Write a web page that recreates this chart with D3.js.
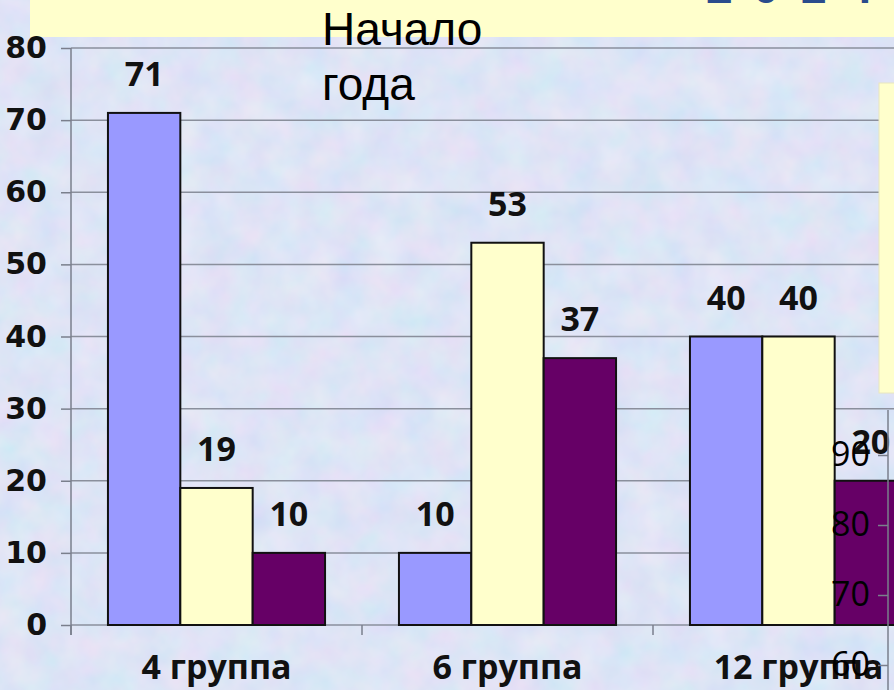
<!DOCTYPE html>
<html>
<head>
<meta charset="utf-8">
<script src="https://cdn.jsdelivr.net/npm/d3@7"></script>
<style>
  body { margin: 0; overflow: hidden; }
  svg { display: block; }
</style>
</head>
<body>
<div class="chart"></div>
<script>
// data
var categories = ["4 группа", "6 группа", "12 группа"];
var seriesNames = ["s1", "s2", "s3"];
var series1 = [71, 10, 40];
var series2 = [19, 53, 40];
var series3 = [10, 37, 20];
var yTicks = [0, 10, 20, 30, 40, 50, 60, 70, 80];
// overlapping axis of another chart showing at the bottom right
var overlayTicks = [60, 70, 80, 90];

var width = 894,
    height = 690;

var margin = { top: 48, bottom: 65, left: 71, right: -50 };

var colors = ["#9999ff", "#ffffcc", "#660066"];

var svg = d3.select(".chart")
            .append("svg")
            .attr("width", width)
            .attr("height", height);

// textured background
var defs = svg.append("defs");
var filt = defs.append("filter").attr("id", "tex").attr("x", 0).attr("y", 0).attr("width", "100%").attr("height", "100%");
filt.append("feTurbulence").attr("type", "fractalNoise").attr("baseFrequency", "0.03").attr("numOctaves", 3).attr("seed", 7);
filt.append("feColorMatrix").attr("type", "matrix")
    .attr("values", "0.45 0 0 0 0.62  0 0.25 0 0 0.74  0 0 0.1 0 0.9  0 0 0 0 1");

svg.append("rect").attr("width", width).attr("height", height).attr("fill", "#c9d5f1");
svg.append("rect").attr("width", width).attr("height", height).attr("filter", "url(#tex)").attr("opacity", 0.6);

// yellow title banner
svg.append("rect").attr("x", 30).attr("y", 0).attr("width", width - 30).attr("height", 37).attr("fill", "#ffffcc");
svg.append("text")
   .attr("x", 706).attr("y", 3)
   .attr("font-family", "Liberation Sans, Arial, sans-serif")
   .attr("font-weight", "bold")
   .attr("font-size", 48)
   .attr("fill", "#2a4c8c")
   .attr("letter-spacing", 20)
   .text("2014");

var x = d3.scaleBand()
          .domain(categories)
          .range([margin.left, margin.left + 3 * 291])
          .paddingInner(0.254)
          .paddingOuter(0.127);

var y = d3.scaleLinear()
          .domain([0, 80])
          .range([625, margin.top]);

var x1 = d3.scaleBand().domain(seriesNames).range([0, x.bandwidth()]);

// gridlines
svg.append("g").selectAll("line")
   .data(yTicks)
   .enter().append("line")
   .attr("x1", margin.left).attr("x2", width)
   .attr("y1", function(d) { return y(d); })
   .attr("y2", function(d) { return y(d); })
   .attr("stroke", "#8a8f9c")
   .attr("stroke-width", 1.5);

// y axis
var yAxis = svg.append("g")
   .attr("transform", "translate(" + margin.left + ",0)")
   .call(d3.axisLeft(y).tickValues(yTicks).tickSize(10).tickPadding(14));
yAxis.select(".domain").remove();
yAxis.append("line").attr("x1", 0).attr("x2", 0).attr("y1", y(80)).attr("y2", y(0) + 10).attr("stroke", "#7a7f8c").attr("stroke-width", 1.5);
yAxis.selectAll(".tick line").attr("stroke", "#7a7f8c").attr("stroke-width", 1.5);
yAxis.selectAll("text")
     .attr("font-family", "DejaVu Sans, Verdana, sans-serif")
     .attr("font-weight", "bold")
     .attr("font-size", 30)
     .attr("fill", "#111");

// x axis
var xAxis = svg.append("g")
   .attr("transform", "translate(0," + y(0) + ")");
var bandEdges = [0, 1, 2, 3].map(function(i) { return margin.left + i * x.step(); });
xAxis.selectAll("line.tk").data(bandEdges).enter().append("line")
     .attr("x1", function(d) { return d; }).attr("x2", function(d) { return d; })
     .attr("y1", 0).attr("y2", 10)
     .attr("stroke", "#7a7f8c").attr("stroke-width", 1.5);
xAxis.selectAll("text").data(categories).enter().append("text")
     .attr("x", function(d) { return x(d) + x.bandwidth() / 2; })
     .attr("y", 54)
     .attr("text-anchor", "middle")
     .attr("font-family", "Open Sans, sans-serif")
     .attr("font-weight", "bold")
     .attr("font-size", 34)
     .attr("fill", "#111")
     .text(function(d) { return d; });

// bars
var allSeries = [series1, series2, series3];
var groups = svg.append("g").selectAll("g")
   .data(categories)
   .enter().append("g")
   .attr("transform", function(d) { return "translate(" + x(d) + ",0)"; });

var bars = groups.selectAll("g")
   .data(function(d, i) { return allSeries.map(function(s, k) { return { key: seriesNames[k], value: s[i], k: k }; }); })
   .enter().append("g");

bars.append("rect")
    .attr("x", function(d) { return x1(d.key); })
    .attr("y", function(d) { return y(d.value); })
    .attr("width", x1.bandwidth())
    .attr("height", function(d) { return y(0) - y(d.value); })
    .attr("fill", function(d) { return colors[d.k]; })
    .attr("stroke", "#111")
    .attr("stroke-width", 2);

bars.append("text")
    .attr("x", function(d) { return x1(d.key) + x1.bandwidth() / 2; })
    .attr("y", function(d) { return y(d.value) - 27; })
    .attr("text-anchor", "middle")
    .attr("font-family", "Open Sans, sans-serif")
    .attr("font-weight", "bold")
    .attr("font-size", 34)
    .attr("fill", "#111")
    .text(function(d) { return d.value; });

// "Начало года" caption
var cap = svg.append("text")
   .attr("font-family", "Liberation Sans, Arial, sans-serif")
   .attr("font-size", 46)
   .attr("fill", "#000");
cap.append("tspan").attr("x", 322).attr("y", 45).text("Начало");
cap.append("tspan").attr("x", 322).attr("y", 100).text("года");

// yellow box on the right edge
svg.append("rect").attr("x", 879).attr("y", 83).attr("width", 20).attr("height", 310)
   .attr("fill", "#ffffcc").attr("stroke", "#e8e6c0").attr("stroke-width", 1);

// overlapping axis from another chart
var yo = d3.scaleLinear().domain([60, 90]).range([665, 455]);
var oAxis = svg.append("g")
   .attr("transform", "translate(888,0)")
   .call(d3.axisLeft(yo).tickValues(overlayTicks).tickSize(10).tickPadding(8));
oAxis.select(".domain").remove();
oAxis.append("line").attr("x1", 0).attr("x2", 0).attr("y1", 410).attr("y2", height).attr("stroke", "#7a7f8c").attr("stroke-width", 1.5);
oAxis.selectAll(".tick line").attr("stroke", "#7a7f8c").attr("stroke-width", 1.5);
oAxis.selectAll("text")
     .attr("font-family", "Open Sans, sans-serif")
     .attr("font-size", 34)
     .attr("fill", "#000");
</script>
</body>
</html>
